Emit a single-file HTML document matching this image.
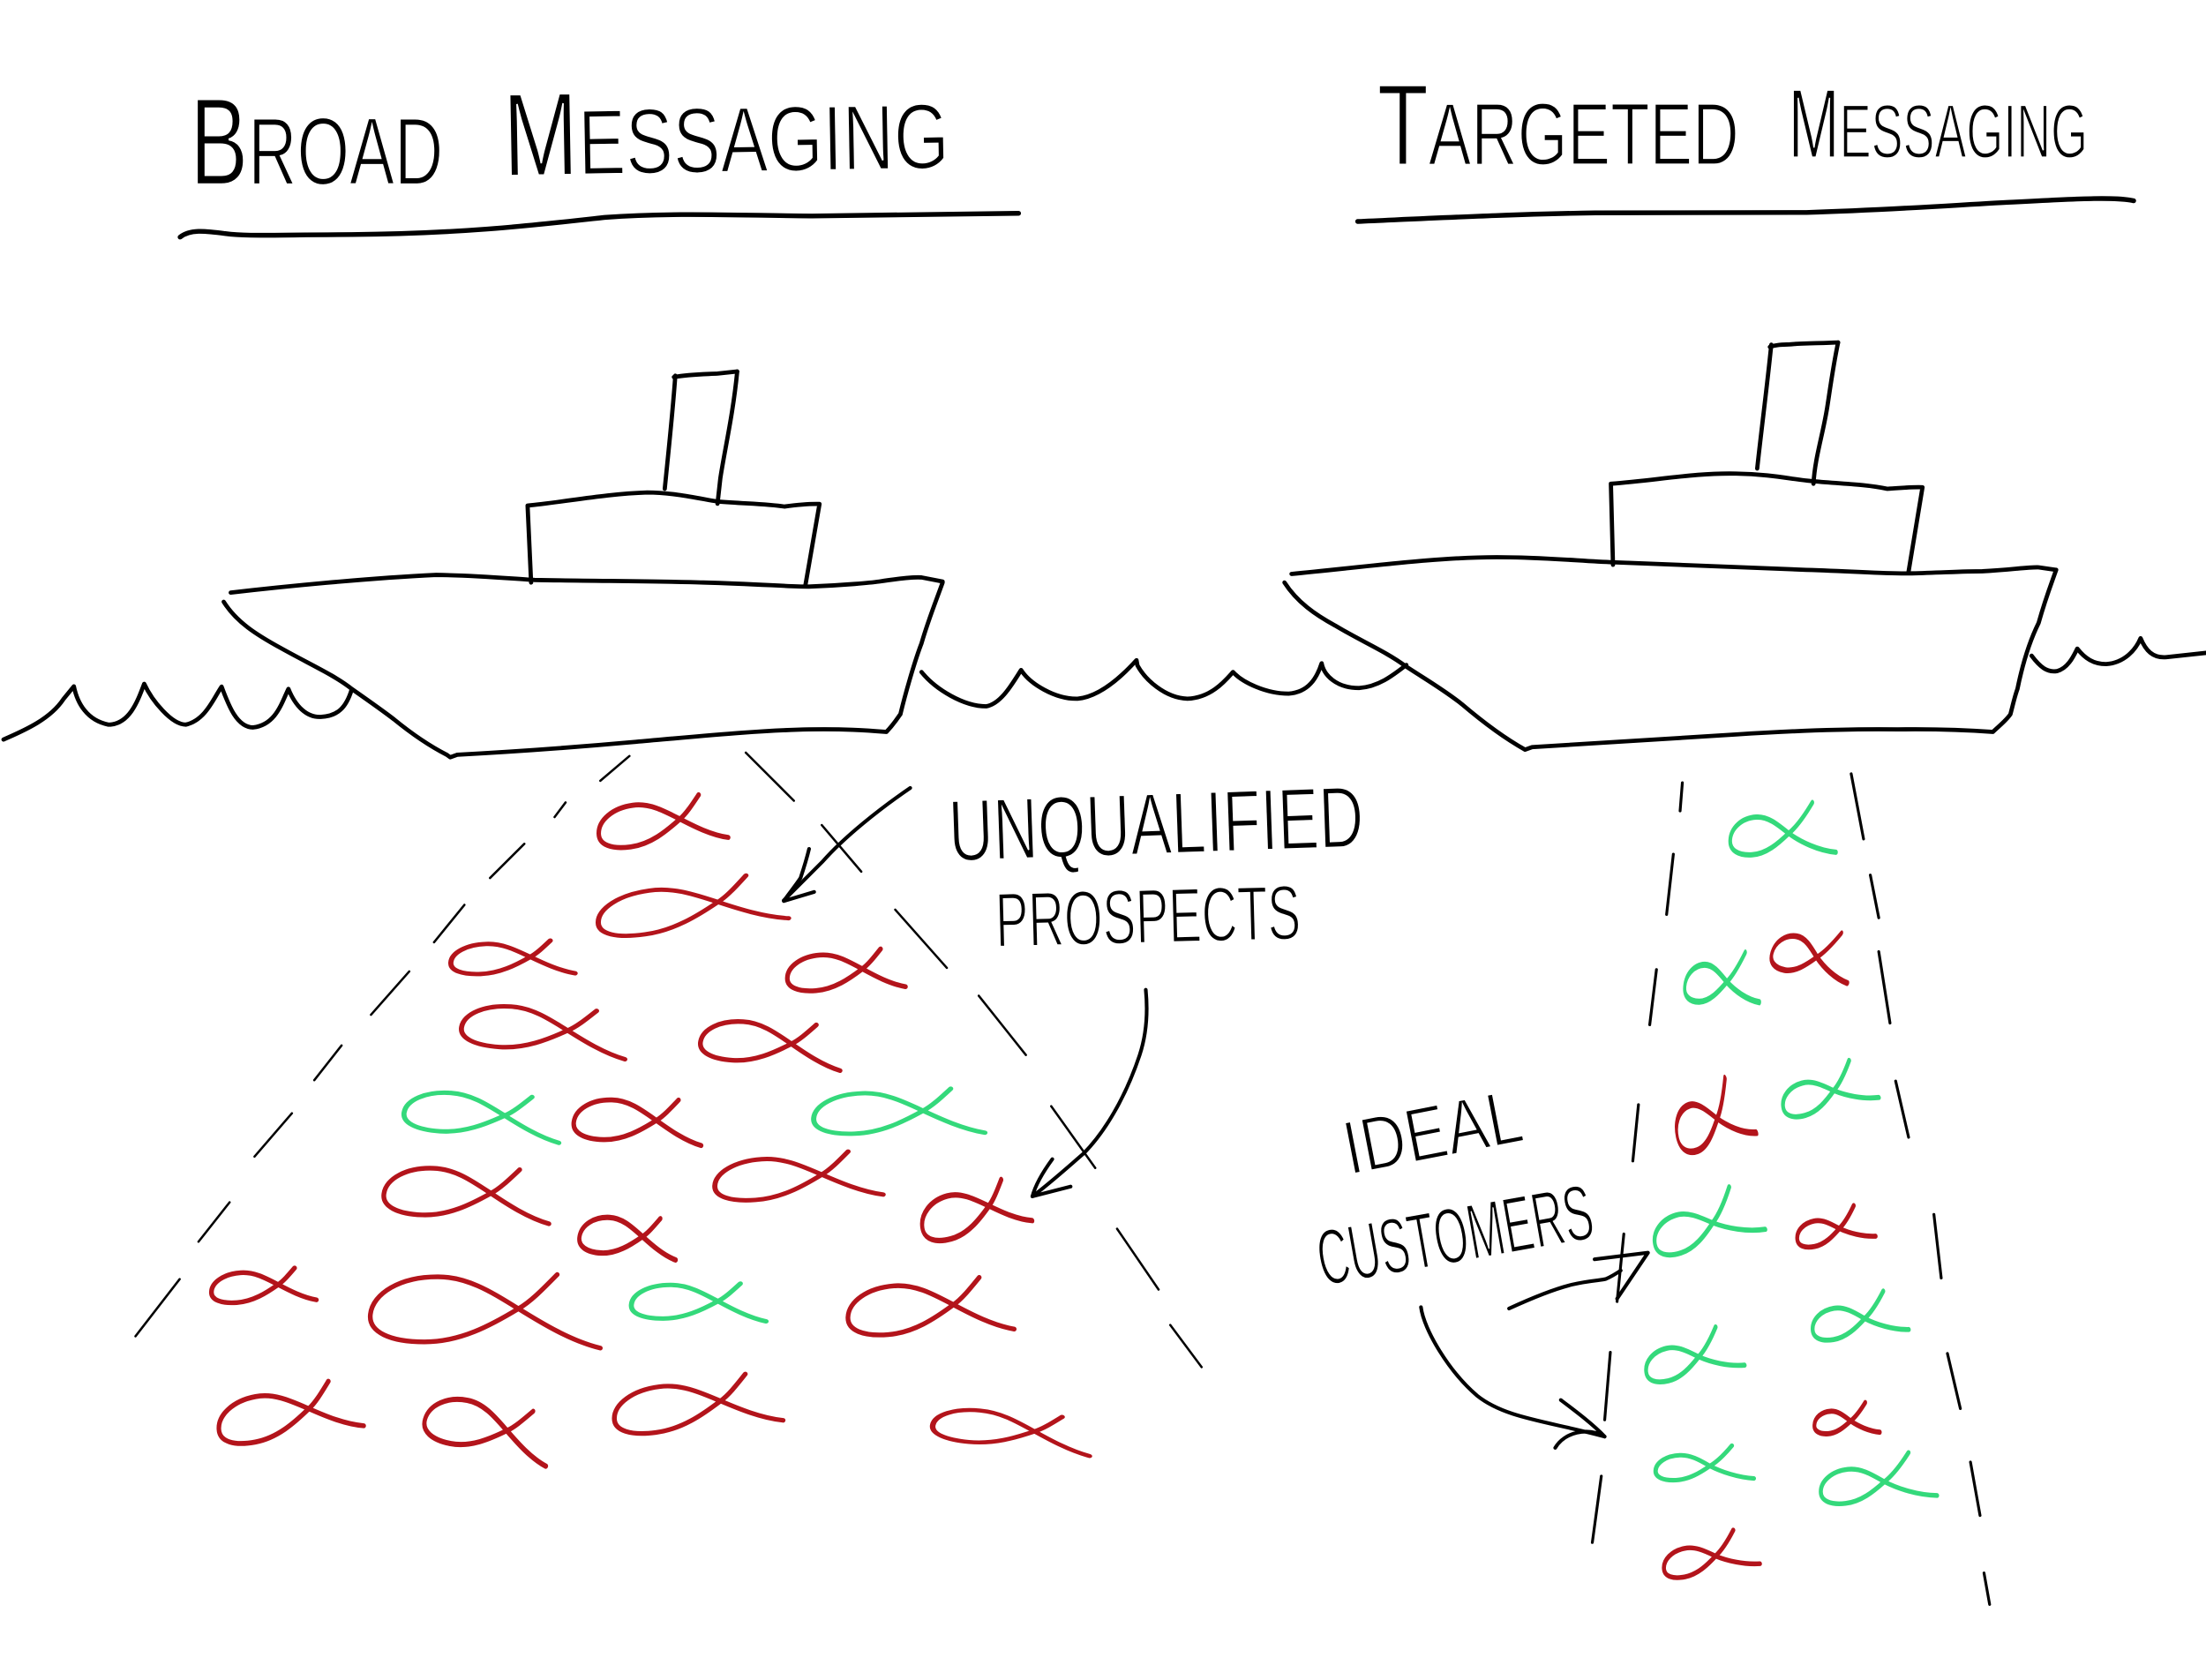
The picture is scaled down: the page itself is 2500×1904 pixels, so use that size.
<!DOCTYPE html>
<html><head><meta charset="utf-8"><style>
html,body{margin:0;padding:0;background:#fff;}
svg{display:block;}
.hw{font-family:"Liberation Sans",sans-serif;fill:#000;stroke:#fff;stroke-width:1.4;}
</style></head><body>
<svg width="2500" height="1904" viewBox="0 0 1568 1194" preserveAspectRatio="none" xmlns="http://www.w3.org/2000/svg">
<rect width="1568" height="1194" fill="#fff"/>
<defs>
<path id="f" fill="none" d="M25,-24 C16,-14 8,-5 0,0 C-18,12 -38,24 -62,25 C-85,26 -100,20 -99,8 C-98,-6 -80,-18 -55,-19 C-35,-20 -18,-10 0,0 C16,9 36,20 56,24"/>
<path id="g" fill="none" d="M40,-36 C28,-22 14,-8 0,0 C-18,12 -38,24 -62,25 C-85,26 -100,20 -99,8 C-98,-6 -80,-18 -55,-19 C-35,-20 -18,-10 0,0 C20,10 50,20 80,22"/>
</defs>

<!-- Titles -->
<text class="hw" x="135" y="131" textLength="180" lengthAdjust="spacingAndGlyphs"><tspan font-size="88">B</tspan><tspan font-size="68">ROAD</tspan></text>
<text class="hw" x="358" y="125" textLength="317" lengthAdjust="spacingAndGlyphs" transform="rotate(-1 358 125)"><tspan font-size="84">M</tspan><tspan font-size="66">ESSAGING</tspan></text>
<text class="hw" x="979" y="117" textLength="257" lengthAdjust="spacingAndGlyphs"><tspan font-size="82">T</tspan><tspan font-size="63">ARGETED</tspan></text>
<text class="hw" x="1271" y="112" textLength="213" lengthAdjust="spacingAndGlyphs"><tspan font-size="70">M</tspan><tspan font-size="54">ESSAGING</tspan></text>

<g fill="none" stroke="#000" stroke-linecap="round" stroke-linejoin="round">
<!-- underlines -->
<path stroke-width="3.4" d="M128,168.5 C135,163 145,164 160,166 C175,168 190,167 250,166.7 C330,166 380,160 430,154.5 C480,151 520,153 577,153.5 C640,153 690,152 724,151.6"/>
<path stroke-width="3.4" d="M965,157.4 C1020,155 1080,152 1134,151.3 C1180,151 1230,151.5 1284,151 C1350,149 1400,145 1434,143.5 C1480,141 1505,140 1516.6,142.7"/>

<!-- Ship 1 -->
<g stroke-width="3">
<path d="M480,267 C478,295 475,322 472.5,347.4"/>
<path d="M479,268 C490,266 500,266 510,265.5 L524,264"/>
<path d="M524,264 C521,295 515,320 512,340 L510,358"/>
<path d="M377.5,414 L375,359.3 C400,357 430,351 460,350 C480,350 500,355 510,356.4 C530,358 545,358 557.5,360 C565,359 575,358 582.5,358.2 L572.5,415.8"/>
<path d="M164,421.2 C200,417 260,411 310,408.6 C340,409 360,411 380,412.2 C430,413 470,413 500,414 C540,415 560,417 575,416.9 C600,416 620,414 625,413.3 C640,411 650,410 655,410.4 L670,413.3"/>
<path d="M159,427.7 C168,442 182,451 200,460.8 C220,472 238,480 250,489.6 C262,498 272,505 280,511.2 C292,521 305,530 317.5,536.4 L320,538.2 L325,536.4 C370,534 410,531 450,527.4 C500,523 540,519 575,518.4 C600,518 615,519 630,520.2 C636,514 638,510 640,507.6 C643,495 650,470 655,457.2 C660,440 665,428 670,414"/>
</g>
<!-- Ship 2 -->
<g stroke-width="3">
<path d="M1259,245 C1256,275 1252,305 1249,333"/>
<path d="M1258,246.6 C1262,245 1266,245 1271.5,244.8 C1280,244 1292,244 1306.5,243.4"/>
<path d="M1306.5,243.4 C1303,260 1301,275 1299,288 C1296,308 1290,325 1289,343.8"/>
<path d="M1146.5,401.4 L1145,343.8 C1180,341 1205,336 1234,336.6 C1260,337 1275,341 1289,342 C1310,344 1325,344 1341.5,347.4 C1350,347 1358,346 1366.5,346.3 L1356.5,406.8"/>
<path d="M918,407.9 C970,403 1020,396 1064,396 C1100,396 1125,399 1146.5,399.6 C1200,402 1250,404 1284,405 C1320,406 1340,408 1359,407.5 C1380,407 1395,406 1409,406 C1430,405 1440,403 1449,403.2 L1461.5,405"/>
<path d="M913,414 C922,428 935,437 949,444.6 C968,456 985,463 999,473.4 C1012,482 1026,490 1039,500.4 C1055,514 1070,525 1084,532.8 L1089,531 C1140,528 1190,525 1234,522 C1280,519 1320,518 1349,518.4 C1380,518 1400,519 1416.5,520.2 C1422,515 1426,512 1429,507.6 C1431,500 1432,495 1434,489.6 C1438,470 1443,455 1449,442.8 C1454,425 1458,415 1461.5,405"/>
</g>
<!-- Waves -->
<g stroke-width="3">
<path d="M2.5,525.6 C15,520 35,512 45,497 L52.5,487.8 C55,500 62,512 77,515 C92,515 98,498 102.5,486 C108,498 122,515 132,515 C146,512 152,496 157.5,488 C162,500 168,517 180,517 C196,515 200,500 205,489.6 C210,502 218,510 228,509.5 C240,509 246,503 250,490"/>
<path d="M655,477.6 C665,490 685,502 701,502 C712,500 720,485 725.8,476.2 C732,486 750,497 766,496.6 C782,495 798,480 807.8,469.2 L808.5,473 C814,483 828,496 844,496.6 C860,496 870,485 876.4,477.6 C883,485 900,493 916,493 C930,492 936,482 939.4,471.4 C941,480 950,489 966,489 C980,488 990,480 999.6,472.6"/>
<path d="M1444,466 C1450,474 1455,478 1462,477 C1470,475 1474,466 1476.5,461 C1482,468 1488,472 1497,472 C1510,471 1518,462 1521.5,453.6 C1525,462 1530,468 1540,467 L1568,464"/>
</g>

<!-- Left beam dashes -->
<g stroke-width="1.6">
<path d="M426.7,554.9 L447.4,537.3 M394.2,580.7 L402,570.3 M348.3,624 L372.7,599.7 M308.5,669.7 L330.1,643.1 M263.7,721.2 L290.9,690.4 M223.4,767.7 L242.8,743 M180.9,822 L207.5,791.2 M141.1,882.5 L163.2,854.5 M96.3,949.7 L127.7,909.1"/>
<path d="M530.1,534.9 L564.3,569.1 M584.1,586.4 L612.2,619.5 M636.3,646.5 L673,687.9 M695.7,707.7 L729.2,749.8 M747.2,786.2 L778.5,830.1 M794,873.3 L823.5,916.5 M831.8,941.7 L854.1,971.6"/>
</g>
<!-- Right beam dashes -->
<g stroke-width="2">
<path d="M1195.8,556.3 L1194.2,576.3 M1189.4,607.1 L1184.6,649.9 M1177.4,689.1 L1172.6,728.3 M1164.6,785.1 L1160.6,825.1 M1154.2,877 L1149.4,925 M1144.6,961.1 L1140.6,1009.1 M1138.2,1049.1 L1131.8,1096.3"/>
<path d="M1315.8,549.9 L1324.6,596.3 M1329.4,621.9 L1335.4,652.3 M1335.4,676.3 L1343.4,727.1 M1347.4,768.3 L1356.6,808.3 M1374.6,863.1 L1379.8,908.3 M1384.2,961.9 L1393.4,1001.1 M1400.6,1039.1 L1407.4,1077.1 M1410.2,1117.9 L1414.2,1140.3"/>
</g>

<!-- Arrows -->
<g stroke-width="2.6">
<path d="M647,560 C625,575 600,595 585,612 C575,622 565,632 557,640"/>
<path d="M575.1,603.3 C573,612 571,618 569,624 C565,630 560,636 557.1,640.4 L578.7,633.9"/>
<path d="M814.4,703.4 C816,720 815,735 810,750 C800,780 785,805 770,820 C755,833 745,842 733.8,850.3"/>
<path d="M748,823.8 C742,832 736,842 733.8,850.3 L761,843.3"/>
<path d="M1072.6,930 C1090,922 1105,916 1117.4,913 C1130,910 1138,910 1141.4,909 C1146,907 1149,905 1152,903"/>
<path d="M1133.4,895 L1171.4,890.3 L1149.4,923"/>
<path d="M1010,929 C1012,945 1030,975 1050,992 C1070,1008 1100,1010 1140.6,1021"/>
<path d="M1109.4,995 C1120,1003 1132,1012 1140.6,1021 C1128,1014 1112,1018 1105.4,1029"/>
</g>
</g>

<!-- Labels -->
<text class="hw" x="675" y="612" font-size="62" textLength="295" lengthAdjust="spacingAndGlyphs" transform="rotate(-2 675 612)">UNQUALIFIED</text>
<text class="hw" x="708" y="673" font-size="55" textLength="217" lengthAdjust="spacingAndGlyphs" transform="rotate(-1.5 708 673)">PROSPECTS</text>
<text class="hw" x="959" y="835" font-size="54" textLength="128" lengthAdjust="spacingAndGlyphs" transform="rotate(-11 959 835)">IDEAL</text>
<text class="hw" x="940" y="914" font-size="56" textLength="198" lengthAdjust="spacingAndGlyphs" transform="rotate(-10 940 914)">CUSTOMERS</text>

<!-- Fish left -->
<g stroke-linecap="round" stroke-linejoin="round">
<g stroke="#b3141b">
<use href="#f" transform="translate(483.3,582.1) rotate(-5) scale(0.59,0.667)" stroke-width="5.36"/>
<use href="#f" transform="translate(510.3,641.1) rotate(-6) scale(0.87,0.696)" stroke-width="4.32"/>
<use href="#f" transform="translate(376.9,680.1) rotate(0) scale(0.57,0.485)" stroke-width="6.4"/>
<use href="#f" transform="translate(403.5,732.4) rotate(6) scale(0.76,0.669)" stroke-width="4.72"/>
<use href="#f" transform="translate(466.5,796.3) rotate(4) scale(0.59,0.649)" stroke-width="5.42"/>
<use href="#f" transform="translate(348.9,848.1) rotate(4.5) scale(0.765,0.765)" stroke-width="4.39"/>
<use href="#f" transform="translate(456.7,878.9) rotate(6) scale(0.45,0.585)" stroke-width="6.55"/>
<use href="#f" transform="translate(197.7,913) rotate(-1.5) scale(0.48,0.48)" stroke-width="7.0"/>
<use href="#f" transform="translate(368.5,930.1) rotate(2.5) scale(1.06,1.06)" stroke-width="3.17"/>
<use href="#f" transform="translate(612.9,688.6) rotate(-2) scale(0.54,0.572)" stroke-width="6.05"/>
<use href="#f" transform="translate(562.5,741.9) rotate(6) scale(0.65,0.637)" stroke-width="5.22"/>
<use href="#f" transform="translate(584.1,834.8) rotate(-2) scale(0.77,0.655)" stroke-width="4.73"/>
<use href="#f" transform="translate(702.9,857.1) rotate(-12) scale(0.50,0.69)" stroke-width="5.72"/>
<use href="#f" transform="translate(677.7,927.3) rotate(-2) scale(0.76,0.783)" stroke-width="4.36"/>
<use href="#f" transform="translate(512.1,995.7) rotate(-5) scale(0.77,0.732)" stroke-width="4.48"/>
<use href="#f" transform="translate(735.3,1017.3) rotate(7) scale(0.73,0.526)" stroke-width="5.42"/>
<use href="#f" transform="translate(219.5,1001.2) rotate(-8) scale(0.66,0.726)" stroke-width="4.86"/>
<use href="#f" transform="translate(360.3,1016.8) rotate(14) scale(0.59,0.743)" stroke-width="5.08"/>
</g>
<g stroke="#34d97b">
<use href="#f" transform="translate(358.7,792.9) rotate(6) scale(0.72,0.634)" stroke-width="4.98"/>
<use href="#f" transform="translate(510.3,924.8) rotate(2) scale(0.62,0.546)" stroke-width="5.77"/>
<use href="#f" transform="translate(656.1,789.4) rotate(0) scale(0.785,0.652)" stroke-width="4.7"/>
</g>
<!-- Fish right -->
<g stroke="#34d97b">
<use href="#g" transform="translate(1271.4,592.3) rotate(0) scale(0.42,0.609)" stroke-width="6.17"/>
<use href="#g" transform="translate(1227.4,697.9) rotate(3) scale(0.30,0.60)" stroke-width="7.36"/>
<use href="#g" transform="translate(1303.4,775.1) rotate(-12) scale(0.38,0.521)" stroke-width="7.0"/>
<use href="#g" transform="translate(1217.4,869.1) rotate(-14) scale(0.44,0.612)" stroke-width="6.01"/>
<use href="#g" transform="translate(1325.4,937.1) rotate(-6) scale(0.38,0.502)" stroke-width="7.14"/>
<use href="#g" transform="translate(1207.4,964.3) rotate(-10) scale(0.39,0.523)" stroke-width="6.9"/>
<use href="#g" transform="translate(1215.4,1041.9) rotate(0) scale(0.39,0.402)" stroke-width="7.88"/>
<use href="#g" transform="translate(1339.4,1053.1) rotate(-3.5) scale(0.46,0.547)" stroke-width="6.22"/>
</g>
<g stroke="#b3141b">
<use href="#g" transform="translate(1291.4,680.3) rotate(14) scale(0.32,0.576)" stroke-width="7.27"/>
<use href="#g" transform="translate(1220.6,795.1) rotate(-14) scale(0.31,0.744)" stroke-width="6.5"/>
<use href="#g" transform="translate(1307.4,873.1) rotate(-8) scale(0.31,0.409)" stroke-width="8.76"/>
<use href="#g" transform="translate(1315.4,1009.9) rotate(0) scale(0.26,0.364)" stroke-width="10.14"/>
<use href="#g" transform="translate(1219.4,1105.9) rotate(-8.5) scale(0.38,0.456)" stroke-width="7.5"/>
</g>
</g>
</svg>
</body></html>
